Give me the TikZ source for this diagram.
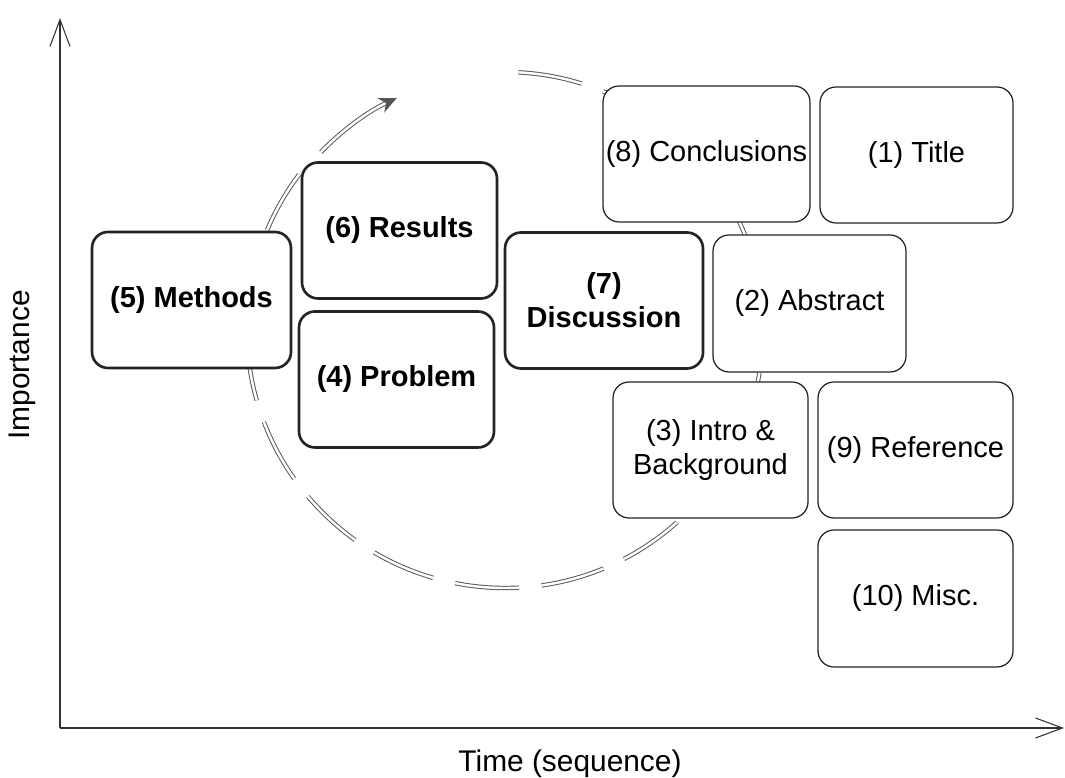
\documentclass[tikz,border=0pt]{standalone}
\usepackage{fontspec}
\setmainfont{Liberation Sans}
\usepackage{xcolor}
\usepackage{tikz}
\usetikzlibrary{arrows.meta, positioning, calc}
\definecolor{boxline}{RGB}{35, 35, 35}
\definecolor{axisline}{RGB}{50, 50, 50}
\definecolor{loopcolor}{RGB}{85, 85, 85}

\begin{document}
\begin{tikzpicture}[
        secbox/.style={draw=boxline, fill=white, rounded corners=0.32cm, line width=0.7pt, minimum width=3.9cm, minimum height=2.72cm, inner sep=1.5pt, align=center, font=\fontsize{16.5}{19.5}\selectfont},
        keybox/.style={secbox, line width=1.5pt, font=\fontsize{16.5}{19.5}\selectfont\bfseries},
        loopline/.style={loopcolor, line width=0.55pt, double=white, double distance=1.4pt, dash pattern=on 1.287cm off 0.453cm},
        axis/.style={axisline, line width=0.6pt, -{Straight Barb[length=5.4mm, width=4mm]}}
    ]
        \useasboundingbox (0, 0) rectangle (21.3, 15.56);

        % Reading cycle
        \coordinate (loopc) at (10.1, 8.96);
        \draw[loopline] (loopc) ++(87:5.16) arc[start angle=87, end angle=-218.5, radius=5.16];
        \draw[loopline, solid, -{Stealth[length=10pt, width=9pt]}] (loopc) ++(136:5.12) arc[start angle=136, end angle=115, radius=5.12];

        % Axes
        \coordinate (origin) at (1.2, 1.0);
        \coordinate (ytop) at (1.2, 15.2);
        \coordinate (xend) at (21.28, 1.0);
        \draw[axis] (origin) -- (ytop);
        \draw[axis] (origin) -- (xend);
        \node[rotate=90, font=\fontsize{17}{20}\selectfont] (ylab) at (0.44, 8.26) {Importance};
        \node[font=\fontsize{17}{20}\selectfont] (xlab) at (11.4, 0.28) {Time (sequence)};

        % Core sections
        \node[keybox, minimum width=3.98cm] (methods) at (3.83, 9.56) {(5) Methods};
        \node[keybox] (results) at (7.99, 10.95) {(6) Results};
        \node[keybox] (problem) at (7.93, 7.97) {(4) Problem};
        \node[keybox, minimum width=3.96cm] (discussion) at (12.08, 9.55) {(7)\\Discussion};

        % Other sections
        \node[secbox, minimum width=4.14cm] (conclusions) at (14.13, 12.48) {(8) Conclusions};
        \node[secbox, minimum width=3.86cm] (title) at (18.33, 12.46) {(1) Title};
        \node[secbox, minimum width=3.86cm, minimum height=2.74cm] (abstract) at (16.19, 9.49) {(2) Abstract};
        \node[secbox] (intro) at (14.21, 6.56) {(3) Intro \&\\Background};
        \node[secbox] (reference) at (18.31, 6.56) {(9) Reference};
        \node[secbox, minimum height=2.74cm] (misc) at (18.31, 3.59) {(10) Misc.};
    \end{tikzpicture}
\end{document}
